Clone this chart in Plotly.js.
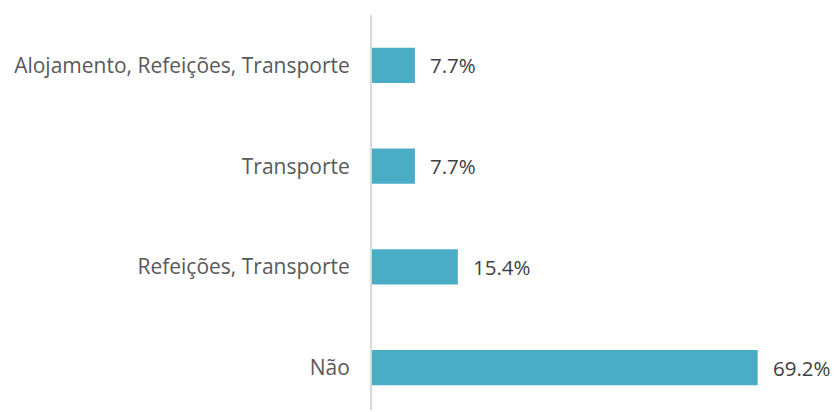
<!DOCTYPE html>
<html><head><meta charset="utf-8">
<script src="https://cdn.plot.ly/plotly-3.0.1.min.js"></script>
<style>html,body{margin:0;padding:0;background:#fff}</style>
</head><body>
<div id="chart" style="width:838px;height:412px"></div>
<script>
const categories = ["Não", "Refeições, Transporte", "Transporte", "Alojamento, Refeições, Transporte"];
const values = [69.2, 15.4, 7.7, 7.7];
const labels = values.map(v => v.toFixed(1) + "%");

const trace = {
  type: "bar",
  orientation: "h",
  y: [0, 1, 2, 3],
  x: values,
  marker: {color: "#4BACC6"},
  width: 0.35,
  hoverinfo: "skip"
};

const annotations = values.map((v, i) => ({
  x: v, y: i, xref: "x", yref: "y",
  text: labels[i], showarrow: false,
  xanchor: "left", yanchor: "middle", xshift: 13,
  font: {family: "Open Sans, sans-serif", size: 20.5, color: "#404040"}
}));

const layout = {
  width: 838, height: 412,
  margin: {l: 372, r: 48, t: 15, b: 2},
  paper_bgcolor: "#fff", plot_bgcolor: "#fff",
  showlegend: false,
  xaxis: {range: [0, 75], visible: false, fixedrange: true},
  yaxis: {
    range: [-0.42, 3.5],
    tickvals: [0, 1, 2, 3], ticktext: categories,
    showgrid: false, zeroline: false,
    showline: true, linecolor: "#D9D9D9", linewidth: 2,
    ticks: "", ticklabelstandoff: 16,
    tickfont: {family: "Open Sans, sans-serif", size: 21, color: "#595959"}
  },
  annotations: annotations
};

Plotly.newPlot("chart", [trace], layout, {displayModeBar: false, staticPlot: true});
</script>
</body></html>
